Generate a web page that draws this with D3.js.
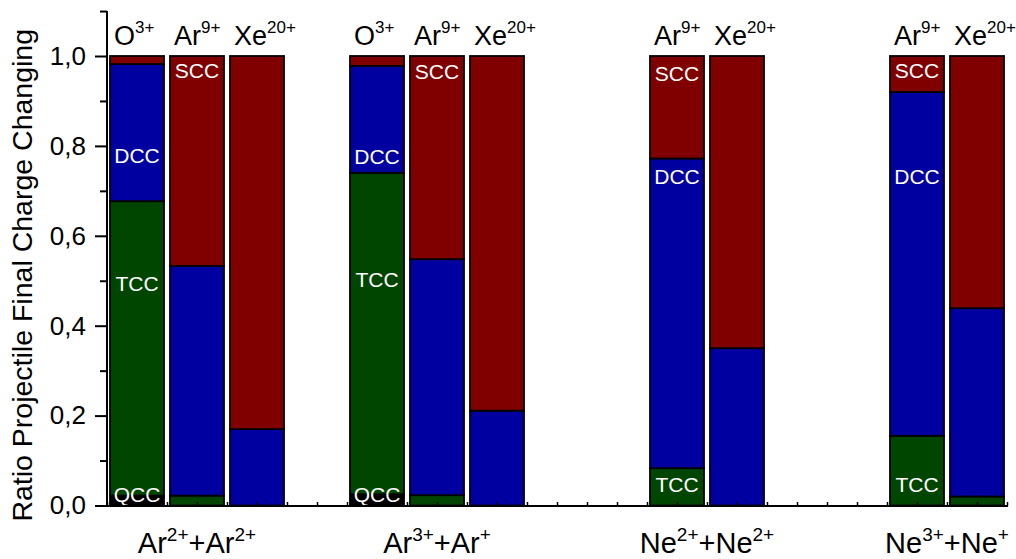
<!DOCTYPE html>
<html><head><meta charset="utf-8">
<script src="https://cdn.jsdelivr.net/npm/d3@7"></script>
<style>
body{margin:0;background:#fff}
svg{display:block}
text{font-family:"Liberation Sans",Arial,Helvetica,sans-serif}
</style>
</head><body>
<svg id="chart" width="1016" height="559"></svg>
<script>
// ---------------- DATA ----------------
const groups = ["Ar2++Ar2+", "Ar3++Ar+", "Ne2++Ne2+", "Ne3++Ne+"];
const groupLabels = [
  [["Ar","2+"],["+Ar","2+"]],
  [["Ar","3+"],["+Ar","+"]],
  [["Ne","2+"],["+Ne","2+"]],
  [["Ne","3+"],["+Ne","+"]]
];
const projectiles = ["O3+", "Ar9+", "Xe20+"];
const projectileLabels = [["O","3+"],["Ar","9+"],["Xe","20+"]];
const components = ["QCC", "TCC", "DCC", "SCC"]; // stacked bottom -> top

// one value per bar: groups x projectiles (null = not measured)
const qcc = [0.022, 0,     0,     0.025, 0,     0,     null, 0,     0,     null, 0,     0    ];
const tcc = [0.655, 0.022, 0,     0.715, 0.023, 0,     null, 0.083, 0,     null, 0.155, 0.020];
const dcc = [0.305, 0.511, 0.170, 0.238, 0.525, 0.211, null, 0.689, 0.350, null, 0.765, 0.419];
const scc = [0.018, 0.467, 0.830, 0.022, 0.452, 0.789, null, 0.228, 0.650, null, 0.080, 0.561];

// in-bar annotations: bar index, text, baseline value
const annBar   = [1, 0, 0, 0,  4, 3, 3, 3,  7, 7, 7,  10, 10, 10];
const annText  = ["SCC","DCC","TCC","QCC", "SCC","DCC","TCC","QCC", "SCC","DCC","TCC", "SCC","DCC","TCC"];
const annValue = [0.951,0.762,0.477,0.008, 0.949,0.760,0.486,0.008, 0.944,0.715,0.030, 0.951,0.715,0.030];

const yMajorTicks = [0, 0.2, 0.4, 0.6, 0.8, 1.0];
const yMinorTicks = [0.1, 0.3, 0.5, 0.7, 0.9, 1.1];
const yTitle = "Ratio Projectile Final Charge Changing";

// ---------------- CHART ----------------
const colors = {SCC:"#800000", DCC:"#0000a0", TCC:"#004600", QCC:"#000000"};
const svg = d3.select("#chart");

// slot domain: each group has 3 slots, separated by an empty slot
const slots = [];
groups.forEach((g, gi) => {
  projectiles.forEach(p => slots.push(g + "|" + p));
  if (gi < groups.length - 1) slots.push("gap" + gi);
});

const left = 107, right = 1007, y0px = 505.5, unit = 449.5;
const x = d3.scaleBand().domain(slots).range([left, right]).paddingInner(0.1).paddingOuter(0.05);
const y = d3.scaleLinear().domain([0, 1.1]).range([y0px, y0px - 1.1 * unit]);

// bar table
const rows = [];
groups.forEach((g, gi) => projectiles.forEach((p, pi) => {
  const i = gi * projectiles.length + pi;
  rows.push({key: g + "|" + p, gi, pi, i, present: scc[i] !== null,
    QCC: qcc[i] || 0, TCC: tcc[i] || 0, DCC: dcc[i] || 0, SCC: scc[i] || 0});
}));
const present = rows.filter(r => r.present);
const stacked = d3.stack().keys(components)(present);

const gBars = svg.append("g");
stacked.forEach(layer => {
  gBars.selectAll(null).data(layer.filter(d => d[1] - d[0] > 0)).join("rect")
    .attr("x", d => x(d.data.key))
    .attr("width", x.bandwidth())
    .attr("y", d => y(d[1]))
    .attr("height", d => y(d[0]) - y(d[1]))
    .attr("fill", colors[layer.key])
    .attr("stroke", "#000")
    .attr("stroke-width", 1.8);
});

// in-bar labels
annBar.forEach((b, k) => {
  const r = rows[b];
  svg.append("text")
    .attr("x", x(r.key) + x.bandwidth() / 2)
    .attr("y", y(annValue[k]))
    .attr("text-anchor", "middle")
    .attr("font-size", 21)
    .attr("fill", "#fff")
    .text(annText[k]);
});

// projectile labels on top of bars
present.forEach(r => {
  const lab = projectileLabels[r.pi];
  const t = svg.append("text")
    .attr("x", x(r.key) + 4)
    .attr("y", y(1) - 11)
    .attr("font-size", 27)
    .attr("fill", "#000");
  t.append("tspan").text(lab[0]);
  t.append("tspan").attr("dy", -12).attr("font-size", 17).text(lab[1]);
});

// y axis
const yAxisMajor = d3.axisLeft(y).tickValues(yMajorTicks).tickSizeInner(12).tickSizeOuter(0)
  .tickPadding(9).tickFormat(d => d3.format(".1f")(d).replace(".", ","));
const gy = svg.append("g").attr("transform", `translate(${left},0)`).call(yAxisMajor);
gy.select(".domain").attr("stroke-width", 2).attr("d", `M0,${y(0) + 1}V${y(1.1)}`);
gy.selectAll(".tick line").attr("stroke-width", 2);
gy.selectAll(".tick text").attr("font-size", 26).attr("font-family", "Liberation Sans, Arial, sans-serif").attr("fill", "#000");
const gyMinor = svg.append("g").attr("transform", `translate(${left},0)`)
  .call(d3.axisLeft(y).tickValues(yMinorTicks).tickSizeInner(7).tickSizeOuter(0).tickFormat(""));
gyMinor.select(".domain").remove();
gyMinor.selectAll(".tick line").attr("stroke-width", 2);

// x axis: line with small inward ticks at slot edges and centres
const xTickScale = d3.scaleLinear().domain([0, slots.length * 2]).range([left, right]);
const gx = svg.append("g").attr("transform", `translate(0,${y(0) + 0.5})`)
  .call(d3.axisBottom(xTickScale).ticks(slots.length * 2).tickSizeInner(-4).tickSizeOuter(0).tickFormat(""));
gx.select(".domain").attr("stroke-width", 2).attr("d", `M${left - 1},0H${right + 1}`);
gx.selectAll(".tick line").attr("stroke-width", 1.5);

// group labels
groups.forEach((g, gi) => {
  const bars = present.filter(r => r.gi === gi);
  const cx = d3.mean(bars, r => x(r.key) + x.bandwidth() / 2);
  const t = svg.append("text")
    .attr("x", cx).attr("y", 553)
    .attr("text-anchor", "middle")
    .attr("font-size", 29).attr("fill", "#000");
  groupLabels[gi].forEach((seg, si) => {
    t.append("tspan").attr("dy", si === 0 ? 0 : 12).text(seg[0]);
    t.append("tspan").attr("dy", -12).attr("font-size", 19).text(seg[1]);
  });
});

// y title
svg.append("text")
  .attr("transform", `translate(32,${(y(0) + y(1.1)) / 2 + 17}) rotate(-90)`)
  .attr("text-anchor", "middle")
  .attr("font-size", 28.5)
  .attr("fill", "#000")
  .text(yTitle);
</script>
</body></html>
